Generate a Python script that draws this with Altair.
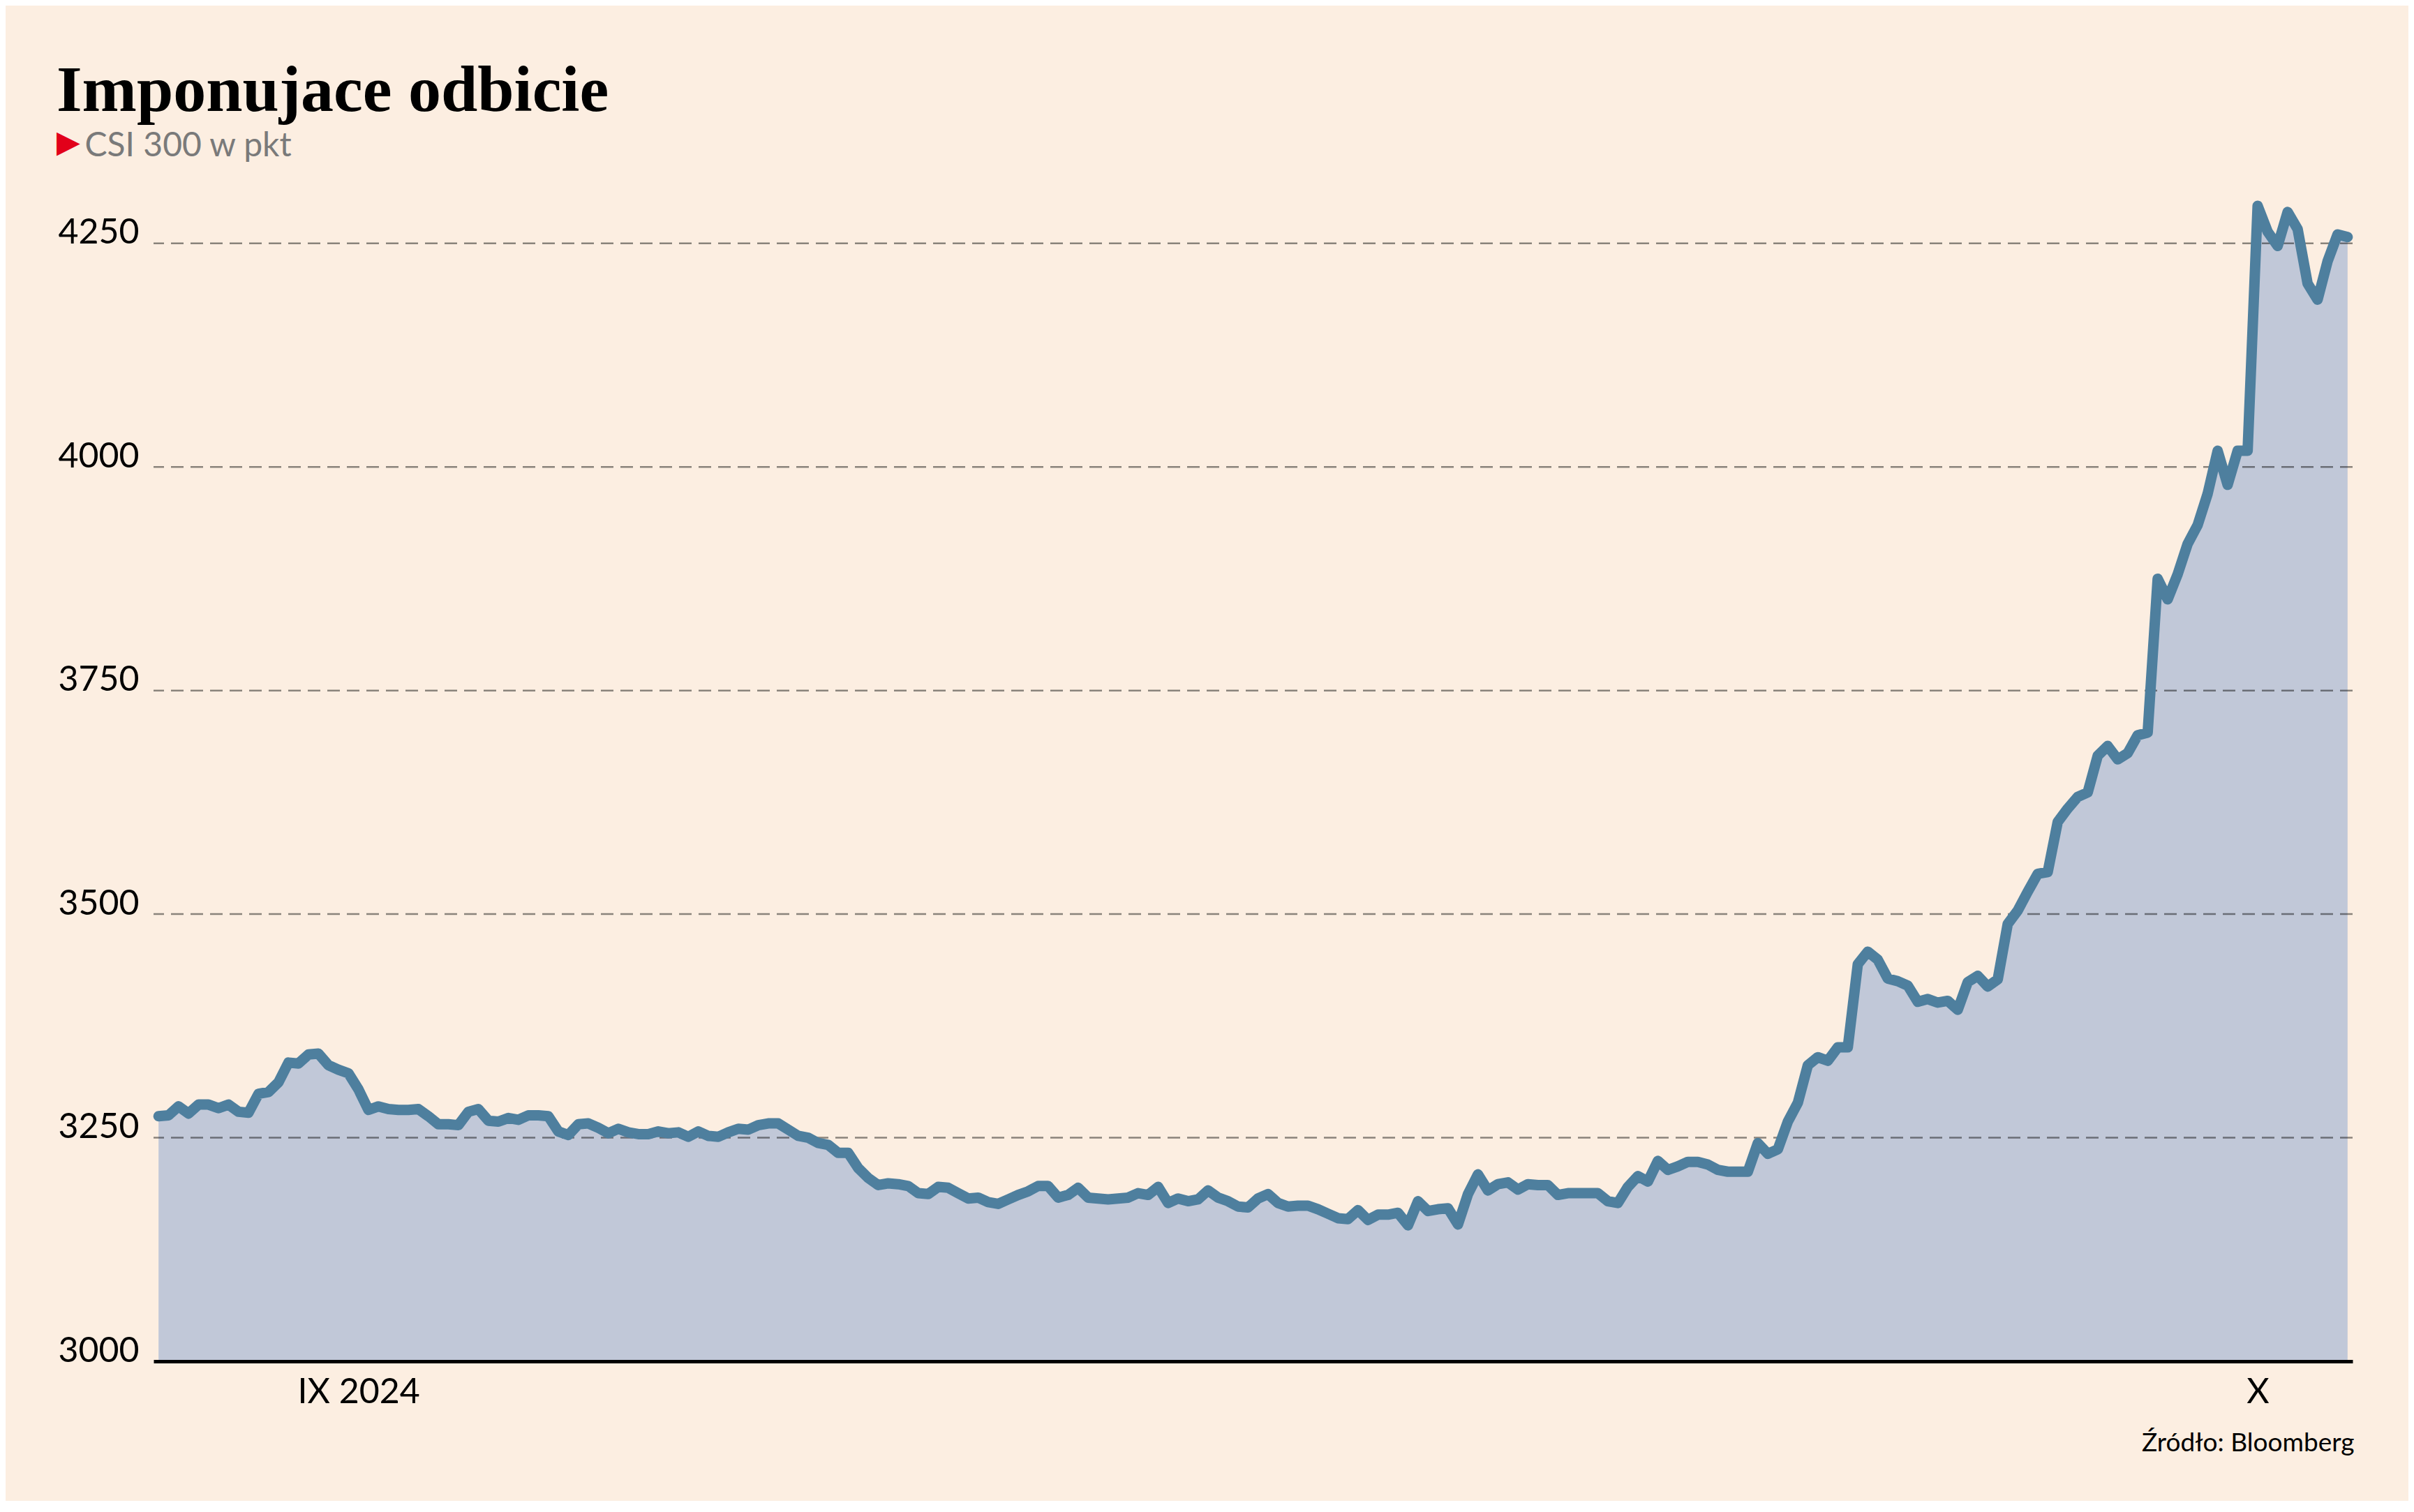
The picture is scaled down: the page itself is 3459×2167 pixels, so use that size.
import altair as alt
import pandas as pd

# CSI 300 intraday readings (points)
values = [
    3274, 3275, 3285, 3277, 3287, 3287, 3283, 3287, 3279, 3278,
    3299, 3301, 3312, 3334, 3333, 3343, 3344, 3331, 3326, 3322,
    3304, 3281, 3285, 3282, 3281, 3281, 3282, 3274, 3265, 3265,
    3264, 3279, 3282, 3269, 3268, 3272, 3270, 3275, 3275, 3274,
    3257, 3253, 3265, 3266, 3261, 3255, 3260, 3256, 3254, 3254,
    3257, 3255, 3256, 3251, 3257, 3252, 3251, 3256, 3260, 3259,
    3264, 3266, 3266, 3259, 3252, 3250, 3244, 3242, 3233, 3233,
    3216, 3205, 3197, 3199, 3198, 3196, 3188, 3187, 3195, 3194,
    3188, 3182, 3183, 3178, 3176, 3181, 3186, 3190, 3196, 3196,
    3183, 3186, 3194, 3183, 3182, 3181, 3182, 3183, 3188, 3186,
    3195, 3177, 3182, 3179, 3181, 3191, 3183, 3179, 3173, 3172,
    3182, 3187, 3177, 3173, 3174, 3174, 3170, 3165, 3160, 3159,
    3169, 3158, 3164, 3164, 3166, 3152, 3179, 3168, 3170, 3171,
    3153, 3187, 3209, 3191, 3198, 3200, 3192, 3198, 3197, 3197,
    3186, 3188, 3188, 3188, 3188, 3179, 3177, 3195, 3207, 3201,
    3224, 3214, 3218, 3223, 3223, 3220, 3214, 3212, 3212, 3212,
    3244, 3232, 3237, 3268, 3289, 3331, 3340, 3336, 3351, 3351,
    3444, 3458, 3449, 3428, 3425, 3420, 3402, 3405, 3401, 3403,
    3393, 3424, 3431, 3419, 3427, 3489, 3504, 3525, 3545, 3547,
    3603, 3618, 3631, 3636, 3677, 3688, 3673, 3680, 3700, 3703,
    3875, 3852, 3880, 3914, 3935, 3970, 4018, 3980, 4018, 4018,
    4292, 4263, 4247, 4285, 4266, 4205, 4187, 4230, 4260, 4257,
]
sessions = list(range(len(values)))

x_tick_pos = [20, 210]
x_tick_labels = ["IX 2024", "X"]
y_ticks = [3000, 3250, 3500, 3750, 4000, 4250]
grid_vals = [3250, 3500, 3750, 4000, 4250]

title_text = "Imponujace odbicie"
subtitle_text = "CSI 300 w pkt"
source_text = "Źródło: Bloomberg"

df = pd.DataFrame({"i": sessions, "v": values})
grid_df = pd.DataFrame({"g": grid_vals})

label_expr = " : ".join(
    f"datum.value == {p} ? '{t}'" for p, t in zip(x_tick_pos, x_tick_labels)
) + " : ''"

W, H = 3151, 1692
BG = "#FCEEE1"

x_scale = alt.Scale(domain=[-0.5, len(values) - 0.5], nice=False, zero=False)
y_scale = alt.Scale(domain=[3000, 4320], nice=False, zero=False)

x_axis = alt.Axis(
    values=x_tick_pos, labelExpr=label_expr, ticks=False, tickSize=0,
    labelPadding=19, labelFont="Lato", labelFontSize=50, labelColor="#000",
    labelAlign="center", labelBaseline="top", labelFlush=False, labelOverlap=False,
    domainColor="#000", domainWidth=5, grid=False,
    title=source_text, titleFont="Lato", titleFontSize=37, titleFontWeight="normal",
    titleColor="#000", titleX=3153, titleY=128, titleAlign="right",
    titleBaseline="alphabetic", titleAnchor="end", zindex=1,
)
y_axis = alt.Axis(
    values=y_ticks, format="d", ticks=False, tickSize=0, domain=False, grid=False,
    labelPadding=137, labelAlign="left", labelBaseline="alphabetic",
    labelFont="Lato", labelFontSize=50, labelColor="#000",
    title=subtitle_text, titleFont="Lato", titleFontSize=48, titleFontWeight="normal",
    titleColor="#7a7a7a", titleAngle=0, titleX=-99, titleY=-36,
    titleAlign="left", titleBaseline="alphabetic",
)

area = alt.Chart(df).mark_area(color="#C1C8D8").encode(
    x=alt.X("i:Q", scale=x_scale, axis=x_axis),
    y=alt.Y("v:Q", scale=y_scale, axis=y_axis),
    y2=alt.datum(3000),
)

grid = alt.Chart(grid_df).mark_rule(
    color="#000", opacity=0.45, strokeWidth=2.5, strokeDash=[18, 10]
).encode(y=alt.Y("g:Q", scale=y_scale))

line = alt.Chart(df).mark_line(
    color="#4E7F9E", strokeWidth=15, strokeJoin="round", strokeCap="round"
).encode(
    x=alt.X("i:Q", scale=x_scale),
    y=alt.Y("v:Q", scale=y_scale),
)

chart = alt.layer(area, grid, line).properties(
    width=W,
    height=H,
    autosize=alt.AutoSizeParams(type="none"),
    padding={"left": 212, "top": 251, "right": 80, "bottom": 200},
    background=BG,
    title=alt.TitleParams(
        text=title_text, subtitle="▶",
        anchor="start", frame="group", dx=-139, offset=-43,
        font="Liberation Serif", fontSize=94, fontWeight="bold", color="#000",
        subtitleFont="DejaVu Sans", subtitleFontSize=44, subtitleColor="#E2001A",
        subtitlePadding=4,
    ),
).configure_view(stroke=None, fill=BG)

chart.save("out.html", embed_options={"renderer": "svg", "actions": False})
